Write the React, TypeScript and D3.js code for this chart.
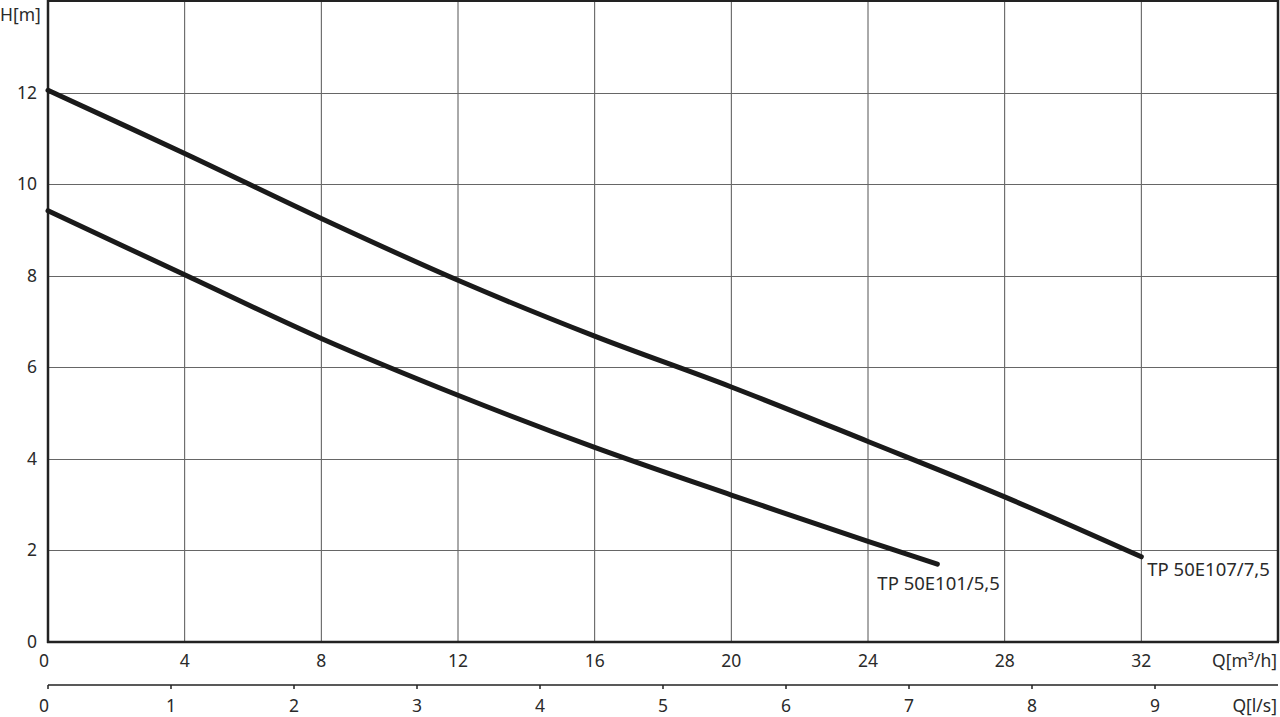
import React from "react";
import * as d3 from "d3";

const qTicks = [0, 4, 8, 12, 16, 20, 24, 28, 32];
const lsTicks = [0, 1, 2, 3, 4, 5, 6, 7, 8, 9];
const hTicks = [0, 2, 4, 6, 8, 10, 12];

const upperQ = [0, 4, 8, 12, 16, 20, 24, 28, 32];
const upperH = [12.05, 10.67, 9.25, 7.9, 6.68, 5.57, 4.38, 3.17, 1.86];
const lowerQ = [0, 4, 8, 12, 16, 20, 24, 26.03];
const lowerH = [9.42, 8.02, 6.63, 5.39, 4.25, 3.21, 2.2, 1.7];

const upperLabel = "TP 50E107/7,5";
const lowerLabel = "TP 50E101/5,5";

const W = 1280;
const H = 717;
const left = 48;
const right = 1278;
const top = 1;
const bottom = 642;
const font = "'Noto Sans', sans-serif";
const textColor = "#2a2a2a";
const fs = 17.5;
const lfs = 18.5;

export default function App() {
  const x = d3.scaleLinear().domain([0, 36]).range([left, right]);
  const y = d3.scaleLinear().domain([0, 14]).range([bottom, top]);
  const xl = d3.scaleLinear().domain([0, 10]).range([left, right]);
  const line = d3
    .line<[number, number]>()
    .x((d) => x(d[0]))
    .y((d) => y(d[1]))
    .curve(d3.curveCatmullRom.alpha(0.5));
  const up = upperQ.map((q, i) => [q, upperH[i]] as [number, number]);
  const lo = lowerQ.map((q, i) => [q, lowerH[i]] as [number, number]);
  const lsY = 685;
  const upEnd = up[up.length - 1];
  const loEnd = lo[lo.length - 1];

  return (
    <svg
      width={W}
      height={H}
      style={{ position: "absolute", left: 0, top: 0, background: "#fff" }}
      fontFamily={font}
    >
      {qTicks.slice(1).concat([36]).map((q) => (
        <line key={"v" + q} x1={x(q)} x2={x(q)} y1={top} y2={bottom} stroke="#555" strokeWidth={1} />
      ))}
      {hTicks.slice(1).map((h) => (
        <line key={"h" + h} x1={left} x2={right} y1={Math.round(y(h)) + 0.5} y2={Math.round(y(h)) + 0.5} stroke="#666" strokeWidth={1} />
      ))}
      <line x1={left} x2={right} y1={1} y2={1} stroke="#222" strokeWidth={2} />
      <line x1={right} x2={right} y1={0} y2={bottom} stroke="#222" strokeWidth={2.5} />
      <line x1={left} x2={left} y1={0} y2={bottom + 1} stroke="#222" strokeWidth={2.5} />
      <line x1={left - 1} x2={right + 1} y1={bottom} y2={bottom} stroke="#222" strokeWidth={2.5} />

      <path d={line(up) || ""} fill="none" stroke="#1a1a1a" strokeWidth={5} strokeLinecap="round" />
      <path d={line(lo) || ""} fill="none" stroke="#1a1a1a" strokeWidth={5} strokeLinecap="round" />

      <text x={x(loEnd[0]) - 60} y={y(loEnd[1]) + 26} fontSize={lfs} fill={textColor}>
        {lowerLabel}
      </text>
      <text x={x(upEnd[0]) + 6} y={y(upEnd[1]) + 19} fontSize={lfs} fill={textColor}>
        {upperLabel}
      </text>

      {hTicks.map((h) => (
        <text key={"yl" + h} x={37} y={y(h) + 6} fontSize={fs} textAnchor="end" fill={textColor}>
          {h}
        </text>
      ))}
      <text x={0} y={21} fontSize={fs} fill={textColor}>H[m]</text>

      {qTicks.map((q) => (
        <text key={"xl" + q} x={x(q)} y={667} fontSize={fs} textAnchor="middle" fill={textColor} dx={q === 0 ? -4 : 0}>
          {q}
        </text>
      ))}
      <text x={1277} y={667} fontSize={fs} textAnchor="end" fill={textColor}>Q[m³/h]</text>

      <line x1={left} x2={right} y1={lsY} y2={lsY} stroke="#222" strokeWidth={1.5} />
      {lsTicks.map((v) => (
        <line key={"lt" + v} x1={xl(v)} x2={xl(v)} y1={lsY} y2={lsY + 4} stroke="#222" strokeWidth={1.5} />
      ))}
      {lsTicks.map((v) => (
        <text key={"ll" + v} x={xl(v)} y={712} fontSize={fs} textAnchor="middle" fill={textColor} dx={v === 0 ? -4 : 0}>
          {v}
        </text>
      ))}
      <text x={1277} y={712} fontSize={fs} textAnchor="end" fill={textColor}>Q[l/s]</text>
    </svg>
  );
}
